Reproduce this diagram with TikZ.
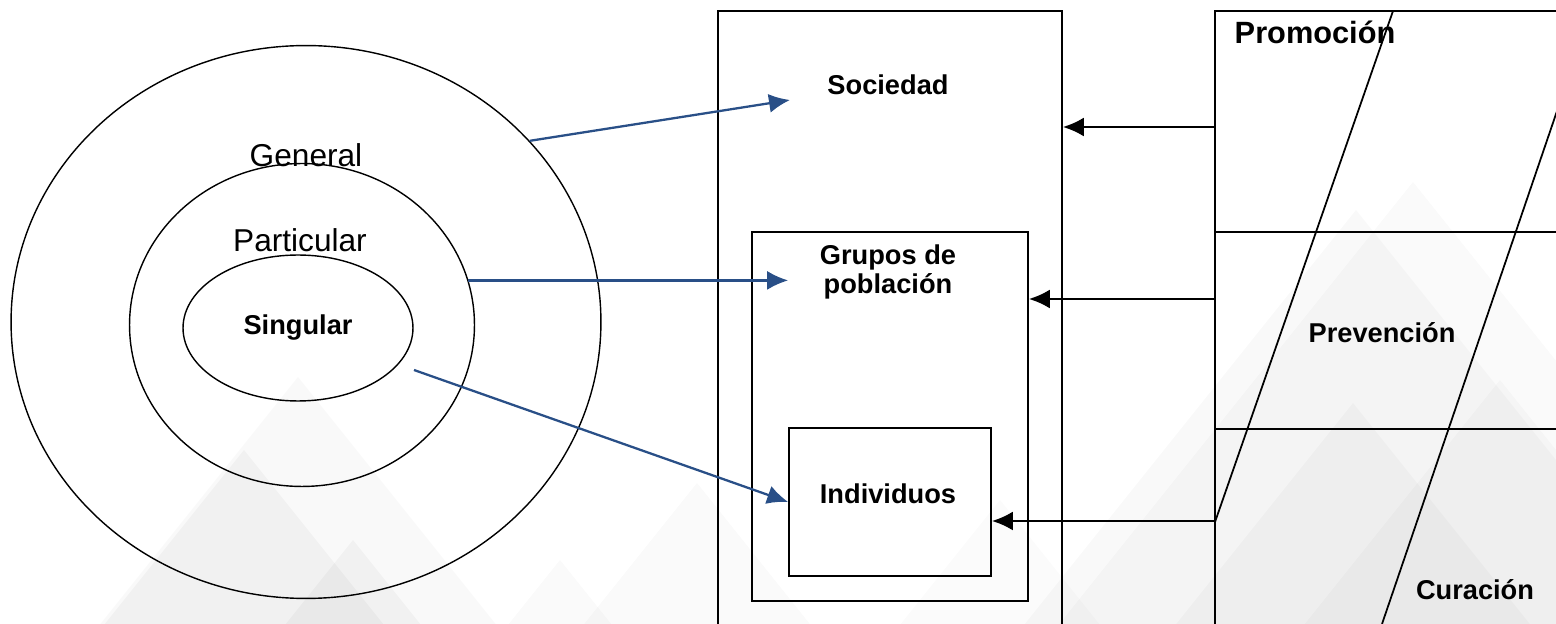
\documentclass[tikz,border=0pt]{standalone}
\usepackage{fontspec}
\setmainfont{Liberation Sans}
\usepackage{tikz}
\usetikzlibrary{shapes.geometric}
\usetikzlibrary{positioning}
\usetikzlibrary{calc}
\usetikzlibrary{arrows.meta}
\definecolor{arrowblue}{RGB}{41,79,135}
\tikzset{every picture/.style={line width=1pt}}

\begin{document}
\begin{tikzpicture}[x=0.02cm, y=-0.02cm,
  ring/.style={ellipse, draw, line width=0.8pt, inner sep=0pt},
  box/.style={rectangle, draw, line width=1pt, inner sep=0pt},
  lbl/.style={font=\fontsize{15.5}{16.5}\selectfont\bfseries, align=center},
  plain/.style={font=\fontsize{18}{22}\selectfont},
  bluearrow/.style={-{Latex[length=4.2mm,width=3.8mm]}, draw=arrowblue, fill=arrowblue, line width=1.3pt},
  blackarrow/.style={-{Latex[length=4.2mm,width=3.8mm]}, line width=1.4pt}]
\useasboundingbox (0,0) rectangle (1556,624);
\clip (0,0) rectangle (1556,624);

% faint background mountains
\foreach \ax/\ay/\op in {298/377/0.025, 244/450/0.03, 353/540/0.03, 697/483/0.02, 560/560/0.02,
  1000/500/0.015, 1413/182/0.02, 1356/210/0.025, 1353/403/0.025, 1500/380/0.02}
  \fill[black, opacity=\op] (\ax,\ay) -- ({\ax+0.8*(640-\ay)},640) -- ({\ax-0.8*(640-\ay)},640) -- cycle;

% levels
\node[ring, minimum width=11.8cm, minimum height=11.06cm] (general) at (306,322) {};
\node[ring, minimum width=6.9cm, minimum height=6.46cm] (particular) at (302,325) {};
\node[ring, lbl, minimum width=4.6cm, minimum height=2.92cm] (singular) at (298,328) {Singular};
\node[plain] (generaltxt) at (306,155) {General};
\node[plain] (particulartxt) at (300,240) {Particular};

% population boxes
\node[box, minimum width=6.88cm, minimum height=13.78cm] (sociedad) at (890,355.5) {};
\node[box, minimum width=5.52cm, minimum height=7.38cm] (grupos) at (890,416.5) {};
\node[box, minimum width=4.04cm, minimum height=2.96cm] (individuos) at (890,502) {};
\node[lbl] (sociedadtxt) at (888,85) {Sociedad};
\node[lbl] (grupostxt) at (888,272) {Grupos de\\población};
\node[lbl] (individuostxt) at (888,494) {Individuos};

% action panel
\node[box, minimum width=7.7cm, minimum height=13.78cm] (panel) at (1407.5,355.5) {};
\draw (1215,232) -- (1556,232);
\draw (1215,429) -- (1556,429);
\draw (1393,11) -- (1215,522);
\draw (1600,-15) -- (1382,624);
\node[font=\fontsize{17.5}{20}\selectfont\bfseries, anchor=west] (promocion) at (1228,32) {Promoción};
\node[lbl] (prevencion) at (1382,333) {Prevención};
\node[lbl] (curacion) at (1475,590) {Curación};

% connectors
\coordinate (sg) at (414,370);
\coordinate (t1) at (790,100);
\draw[bluearrow] (general.39) -- (t1);
\draw[bluearrow] (particular.15) -- (particular.15 -| individuos.west);
\draw[bluearrow] (sg) -- (individuos.west);

\coordinate (pa) at (1215,127);
\coordinate (pb) at (1215,299);
\coordinate (pc) at (1215,521);
\draw[blackarrow] (pa) -- (pa -| sociedad.east);
\draw[blackarrow] (pb) -- (pb -| grupos.east);
\draw[blackarrow] (pc) -- (pc -| individuos.east);
\end{tikzpicture}
\end{document}
